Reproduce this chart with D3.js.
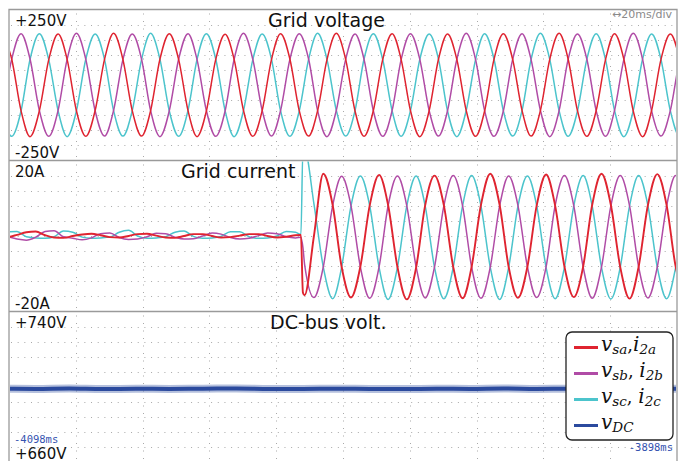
<!DOCTYPE html>
<html><head><meta charset="utf-8">
<script src="https://cdn.jsdelivr.net/npm/d3@7"></script>
<style>body{margin:0;background:#fff}svg{display:block}</style>
</head><body>
<svg id="chart" width="686" height="461"></svg>
<script>
// ---- time base (ms) ----
const timeStart = -4098, timeEnd = -3898;

// ---- grid voltages, sampled every 60 electrical degrees ----
const voltTimes = [
 -4100.0,-4097.2,-4094.4,-4091.7,-4088.9,-4086.1,-4083.3,-4080.6,-4077.8,-4075.0,
 -4072.2,-4069.4,-4066.7,-4063.9,-4061.1,-4058.3,-4055.6,-4052.8,-4050.0,-4047.2,
 -4044.4,-4041.7,-4038.9,-4036.1,-4033.3,-4030.6,-4027.8,-4025.0,-4022.2,-4019.4,
 -4016.7,-4013.9,-4011.1,-4008.3,-4005.6,-4002.8,-4000.0,-3997.2,-3994.4,-3991.7,
 -3988.9,-3986.1,-3983.3,-3980.6,-3977.8,-3975.0,-3972.2,-3969.4,-3966.7,-3963.9,
 -3961.1,-3958.3,-3955.6,-3952.8,-3950.0,-3947.2,-3944.4,-3941.7,-3938.9,-3936.1,
 -3933.3,-3930.6,-3927.8,-3925.0,-3922.2,-3919.4,-3916.7,-3913.9,-3911.1,-3908.3,
 -3905.6,-3902.8,-3900.0,-3897.2,-3894.4
];
const vsa = [
 170, 86,-85,-171,-85, 84,  169, 85,-86,-170,-84, 85,
 171, 85,-85,-169,-85, 86,  170, 84,-85,-171,-86, 85,
 168, 85,-84,-170,-85, 85,  170, 86,-85,-169,-85, 84,
 171, 85,-86,-170,-84, 85,  170, 85,-85,-171,-85, 86,
 169, 84,-85,-170,-86, 85,  170, 85,-84,-169,-85, 85,
 171, 86,-85,-170,-85, 84,  170, 85,-86,-171,-84, 85,
 169, 85,-85
];
const vsb = [
 -85, 85, 170, 86,-85,-170, -84, 85, 171, 85,-86,-169,
 -85, 84, 169, 85,-85,-171, -85, 86, 170, 84,-85,-170,
 -86, 85, 171, 85,-84,-169, -85, 85, 170, 86,-85,-171,
 -84, 85, 169, 85,-86,-170, -85, 84, 170, 85,-85,-169,
 -85, 86, 171, 84,-85,-170, -86, 85, 170, 85,-84,-171,
 -85, 85, 169, 86,-85,-170, -84, 85, 171, 85,-86,-169,
 -85, 84, 170
];
const vsc = [
 -85,-170,-86, 85, 170, 84, -85,-171,-85, 86, 169, 85,
 -84,-169,-85, 85, 171, 85, -86,-170,-84, 85, 170, 86,
 -85,-171,-85, 84, 169, 85, -85,-170,-86, 85, 171, 85,
 -84,-169,-85, 86, 170, 84, -85,-170,-85, 85, 169, 85,
 -86,-171,-84, 85, 170, 86, -85,-169,-85, 84, 171, 85,
 -85,-170,-86, 85, 170, 84, -84,-171,-85, 86, 169, 85,
 -85,-170,-85
];

// ---- grid currents (A): near zero, then the converter starts ----
const currentTimes = [
 -4101.1,-4098.3,-4095.6,-4092.8,-4090.0,-4087.2,-4084.5,-4081.7,-4078.9,-4076.1,
 -4073.3,-4070.6,-4067.8,-4065.0,-4062.2,-4059.5,-4056.7,-4053.9,-4051.1,-4048.3,
 -4045.6,-4042.8,-4040.0,-4037.2,-4034.5,-4031.7,-4028.9,-4026.1,-4023.3,-4020.6,
 -4017.8,-4015.0,-4012.2,
 -4010.6,-4010.0,
 -4009.5,-4006.7,-4003.9,-4001.1,-3998.4,-3995.6,-3992.8,-3990.0,-3987.2,-3984.5,
 -3981.7,-3978.9,-3976.1,-3973.4,-3970.6,-3967.8,-3965.0,-3962.2,-3959.5,-3956.7,
 -3953.9,-3951.1,-3948.4,-3945.6,-3942.8,-3940.0,-3937.2,-3934.5,-3931.7,-3928.9,
 -3926.1,-3923.4,-3920.6,-3917.8,-3915.0,-3912.2,-3909.5,-3906.7,-3903.9,-3901.1,
 -3898.4,-3895.6
];
const i2a = [
 -0.5,-0.3, 0.3, 1.0, 1.2, 0.2,-0.4,-0.5, 0.0, 0.4,
  0.6, 0.2,-0.3,-0.4, 0.0, 0.5, 0.6, 0.1,-0.4,-0.5,
  0.0, 0.5, 0.5, 0.0,-0.4,-0.3, 0.1, 0.5, 0.5, 0.0,
 -0.4,-0.2, 0.2,
  0.3,-15.0,
 -15.7, 0.0, 16.5, 8.2,-8.2,-16.3,-8.1, 8.1, 16.2, 8.2,
 -8.2,-16.8,-8.3, 8.1, 16.0, 8.1,-8.2,-16.5,-8.2, 8.2,
 16.5, 8.2,-8.2,-16.4,-8.2, 8.1, 16.3, 8.1,-8.1,-16.2,
 -8.1, 8.2, 16.5, 8.2,-8.2,-16.6,-8.2, 8.2, 16.4, 8.1,
 -8.1,-16.2
];
const i2b = [
  0.5,-0.2,-0.8,-1.1,-0.3, 1.2, 1.4,-0.2,-0.6,-1.0,
 -0.5, 0.6, 0.8,-0.4,-0.9,-0.8,-0.2, 0.7, 0.6,-0.3,
 -0.8,-0.7, 0.0, 0.8, 0.5,-0.4,-0.8,-0.6, 0.1, 0.8,
  0.6,-0.2,-0.5,
 -0.3,-3.0,
 -7.5,-16.3,-8.2, 8.0, 15.8, 8.0,-8.2,-16.5,-8.2, 8.0,
 15.9, 8.0,-8.2,-16.4,-8.2, 8.0, 16.0, 8.0,-8.2,-16.5,
 -8.2, 8.0, 15.9, 8.0,-8.1,-16.3,-8.2, 8.0, 16.0, 8.0,
 -8.2,-16.5,-8.2, 8.0, 16.0, 8.0,-8.1,-16.4,-8.2, 8.0,
 16.0, 8.0
];
const i2c = [
  0.2, 1.1, 1.2,-0.2,-0.5,-0.6,-0.2, 1.3, 1.0,-0.3,
 -0.6,-0.5,-0.3, 1.0, 1.5, 0.0,-0.6,-0.5,-0.2, 1.0,
  1.3,-0.1,-0.6,-0.5,-0.1, 1.1, 1.1,-0.2,-0.6,-0.5,
  0.0, 1.2, 1.0,
  0.4, 23.0,
 23.0, 8.5,-8.2,-16.6,-8.2, 8.0, 15.9, 8.0,-8.3,-16.8,
 -8.3, 8.0, 15.9, 8.0,-8.3,-16.6,-8.3, 8.0, 16.0, 8.0,
 -8.3,-16.8,-8.3, 8.0, 15.9, 8.0,-8.3,-16.6,-8.3, 8.0,
 16.0, 8.0,-8.3,-16.7,-8.3, 8.0, 16.0, 8.0,-8.3,-16.6,
 -8.3, 8.0
];

// ---- DC-bus voltage (V) ----
const dcTimes = [-4100,-4090,-4080,-4070,-4060,-4050,-4040,-4030,-4020,-4010,-4000,
                 -3990,-3980,-3970,-3960,-3950,-3940,-3930,-3920,-3910,-3900,-3895];
const vdc = [699.1,699.0,699.2,698.9,699.1,699.0,699.1,699.2,699.0,699.0,699.1,
             699.0,698.9,699.1,699.0,699.2,699.0,699.1,698.9,699.0,699.1,699.0];

// ---- panel labels ----
const panelTitles = ["Grid voltage", "Grid current", "DC-bus volt."];
const panelTop = ["+250V", "20A", "+740V"];
const panelBottom = ["-250V", "-20A", "+660V"];
const panelDomains = [[-250, 250], [-20, 20], [660, 740]];
const timeLabels = ["-4098ms", "-3898ms"];
const scaleLabel = "\u219420ms/div";

const colors = { a: "#df2430", b: "#b04ca6", c: "#4cc4cc", dc: "#2b4a9e" };

const svg = d3.select("#chart");
const left = 9, right = 677;
const tops = [9.5, 160.5, 311.5];
const panelH = 151;

const x = d3.scaleLinear().domain([timeStart, timeEnd]).range([left, right]);
const ys = panelDomains.map((d, i) => d3.scaleLinear().domain(d).range([tops[i] + panelH, tops[i]]));

// dotted graticule
const grid = svg.append("g").attr("stroke", "#a9a9a9").attr("stroke-width", 1);
const xTicks = d3.range(1, 10).map(i => timeStart + i * 20);
tops.forEach((t, p) => {
  const y = ys[p];
  const yTicks = d3.range(1, 10).map(i => panelDomains[p][0] + i * (panelDomains[p][1] - panelDomains[p][0]) / 10);
  grid.selectAll(null).data(yTicks).join("line")
    .attr("x1", left + 2).attr("x2", right - 1)
    .attr("y1", d => Math.round(y(d)) + 0.5).attr("y2", d => Math.round(y(d)) + 0.5)
    .attr("stroke-dasharray", "1,5.67");
  grid.selectAll(null).data(xTicks).join("line")
    .attr("x1", d => Math.round(x(d)) + 0.5).attr("x2", d => Math.round(x(d)) + 0.5)
    .attr("y1", t + 4).attr("y2", Math.min(t + panelH, 461))
    .attr("stroke-dasharray", "1,6.5");
});

// frame
const frame = svg.append("g").attr("stroke", "#9a9a9a").attr("stroke-width", 1.3).attr("fill", "none");
frame.append("path").attr("d", `M${left},470V${tops[0]}H${right}V470`);
frame.append("line").attr("x1", left).attr("x2", right).attr("y1", tops[1]).attr("y2", tops[1]);
frame.append("line").attr("x1", left).attr("x2", right).attr("y1", tops[2]).attr("y2", tops[2]);

// clip regions per panel
const defs = svg.append("defs");
tops.forEach((t, i) => {
  defs.append("clipPath").attr("id", "clip" + i)
    .append("rect").attr("x", left + 1).attr("y", t + 1).attr("width", right - left - 2).attr("height", panelH - 1);
});

function trace(panel, times, values, color, width, opacity) {
  const line = d3.line().x((d, i) => x(times[i])).y(d => ys[panel](d)).curve(d3.curveMonotoneX);
  svg.append("path").attr("clip-path", `url(#clip${panel})`)
    .attr("d", line(values)).attr("fill", "none").attr("opacity", opacity == null ? 1 : opacity)
    .attr("stroke", color).attr("stroke-width", width).attr("stroke-linejoin", "round");
}

trace(0, voltTimes, vsc, colors.c, 1.5);
trace(0, voltTimes, vsb, colors.b, 1.5);
trace(0, voltTimes, vsa, colors.a, 1.5);

trace(1, currentTimes, i2c, colors.c, 1.5);
trace(1, currentTimes, i2b, colors.b, 1.5);
trace(1, currentTimes, i2a, colors.a, 1.9);

// DC bus: ripple band plus core trace
trace(2, dcTimes, vdc, colors.dc, 8, 0.35);
trace(2, dcTimes, vdc, colors.dc, 4);

// text
const txt = svg.append("g").attr("font-family", "DejaVu Sans, sans-serif").attr("fill", "#111");
panelTop.forEach((s, i) => txt.append("text").attr("x", 15).attr("y", tops[i] + 16).attr("font-size", 15).text(s));
panelBottom.forEach((s, i) => txt.append("text").attr("x", 15).attr("y", tops[i] + panelH - 2.5 - (i === 2 ? 1.5 : 0)).attr("font-size", 15).text(s));
const titleX = [268, 181, 270];
panelTitles.forEach((s, i) => txt.append("text").attr("x", titleX[i]).attr("y", tops[i] + 17).attr("font-size", 19).text(s));

svg.append("text").attr("x", 672).attr("y", 18).attr("text-anchor", "end")
  .attr("font-family", "DejaVu Sans, sans-serif").attr("font-size", 11).attr("fill", "#8a8a8a").text(scaleLabel);

const mono = svg.append("g").attr("font-family", "DejaVu Sans Mono, monospace").attr("font-size", 10.5).attr("fill", "#3553b0");
mono.append("text").attr("x", 14).attr("y", 443).text(timeLabels[0]);
mono.append("text").attr("x", 673).attr("y", 451).attr("text-anchor", "end").text(timeLabels[1]);

// legend
const legendItems = [
  { color: colors.a, parts: [["v", 0], ["sa", 1], [",", 2], ["i", 0], ["2a", 1]] },
  { color: colors.b, parts: [["v", 0], ["sb", 1], [", ", 2], ["i", 0], ["2b", 1]] },
  { color: colors.c, parts: [["v", 0], ["sc", 1], [", ", 2], ["i", 0], ["2c", 1]] },
  { color: colors.dc, parts: [["v", 0], ["DC", 1]] }
];
const lg = svg.append("g");
lg.append("rect").attr("x", 566).attr("y", 332).attr("width", 107).attr("height", 108)
  .attr("rx", 6).attr("fill", "#fff").attr("stroke", "#222").attr("stroke-width", 1.3);
legendItems.forEach((it, i) => {
  const yy = 347.5 + i * 26;
  lg.append("line").attr("x1", 574).attr("x2", 598).attr("y1", yy).attr("y2", yy)
    .attr("stroke", it.color).attr("stroke-width", 3);
  const t = lg.append("text").attr("x", 601).attr("y", yy + 3)
    .attr("font-family", "DejaVu Serif, serif").attr("fill", "#111");
  it.parts.forEach(([s, kind]) => {
    const sp = t.append("tspan").text(s);
    if (kind === 0) sp.attr("font-size", 20).attr("font-style", "italic").attr("dy", 0);
    if (kind === 1) sp.attr("font-size", 13.5).attr("font-style", "italic").attr("dy", 3.5);
    if (kind === 2) sp.attr("font-size", 18).attr("dy", -3.5);
  });
});
</script>
</body></html>
